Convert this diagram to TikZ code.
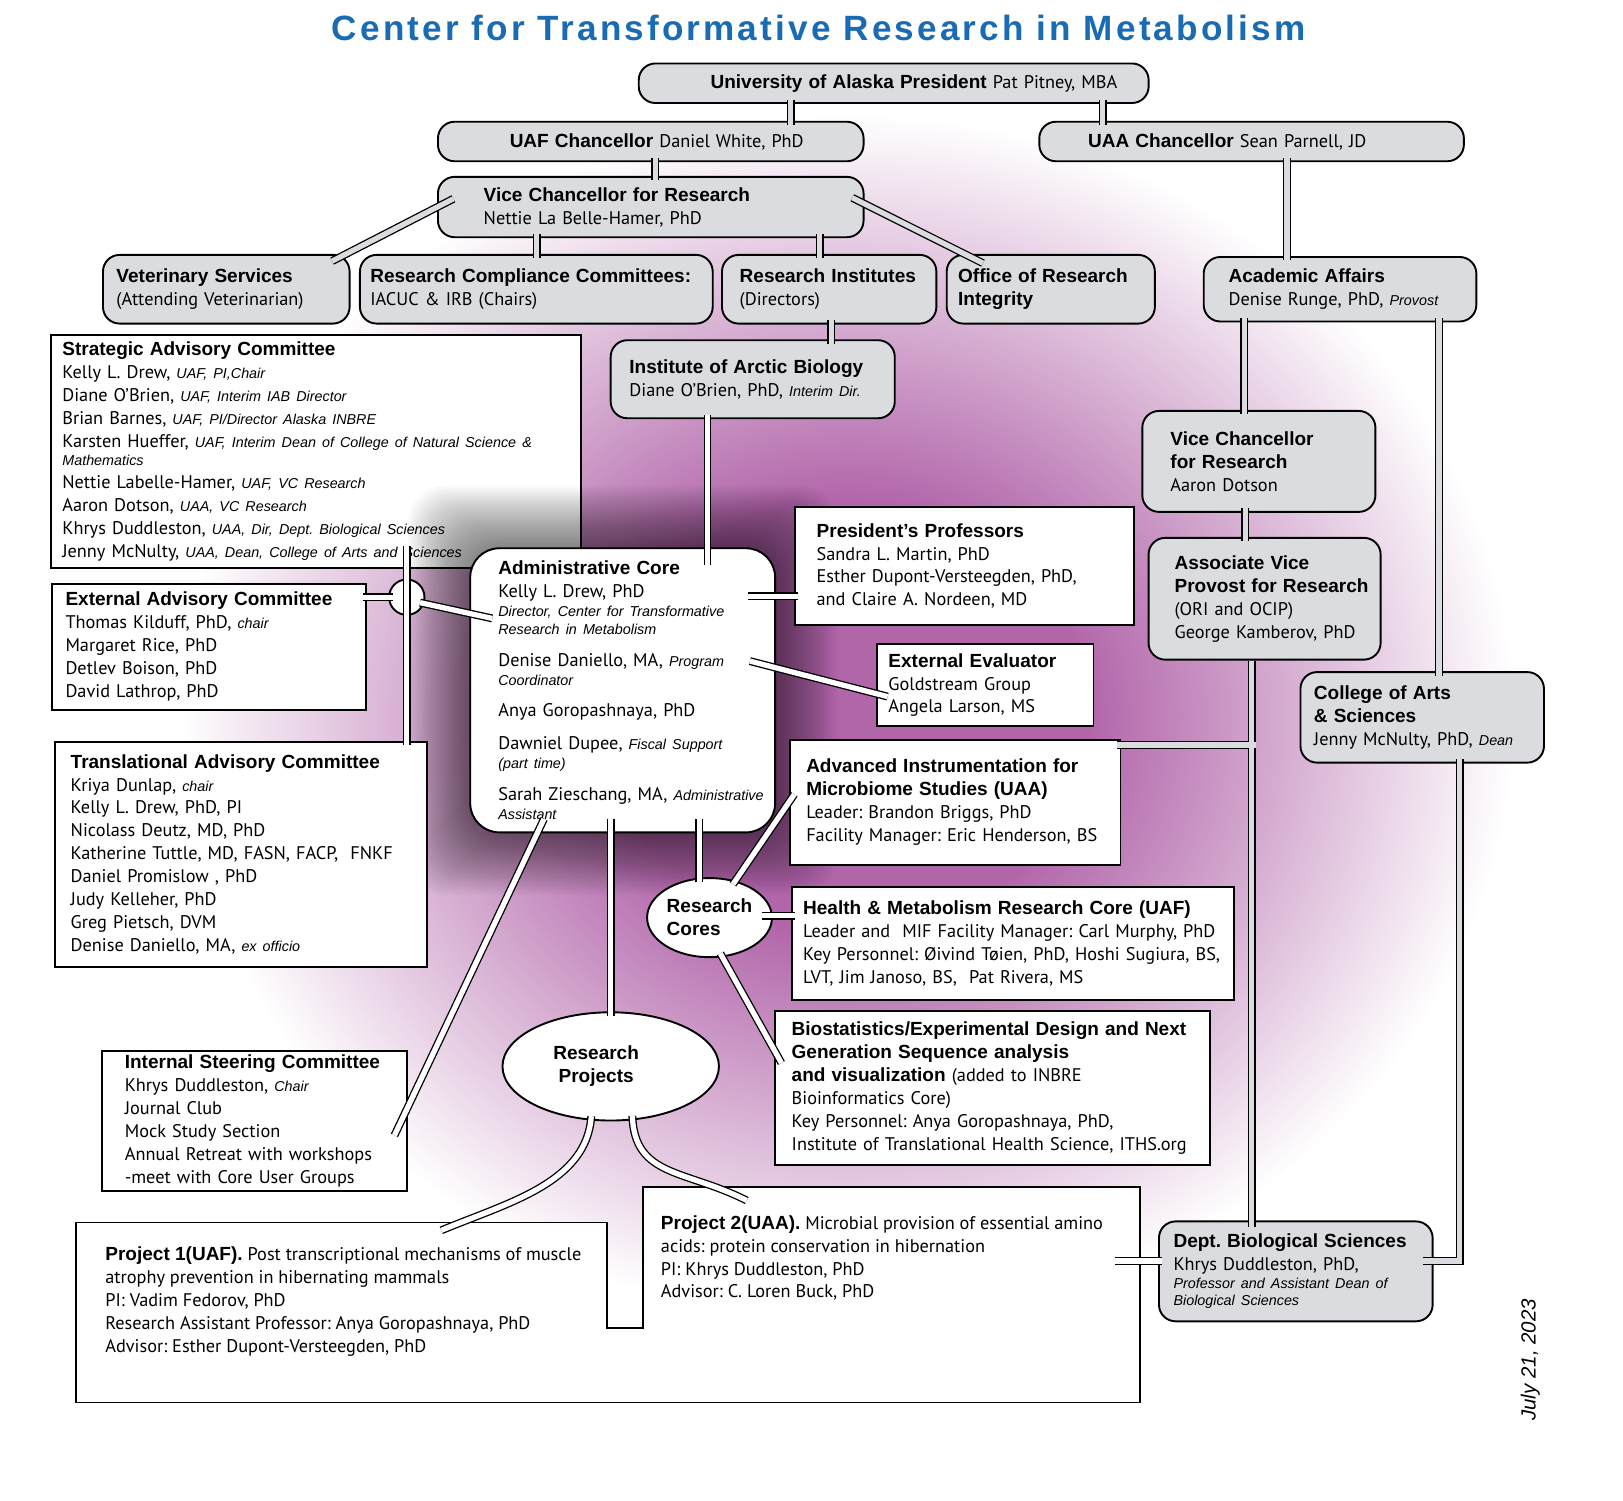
\documentclass[tikz,border=0pt]{standalone}
\usepackage{fontspec}
\setmainfont{PT Sans}
\newfontfamily\hfont{Liberation Sans}
\newfontfamily\titlefont[LetterSpace=9]{Liberation Sans}
\usetikzlibrary{calc,positioning,shapes.geometric}
\definecolor{boxgray}{RGB}{219,220,223}
\definecolor{mauve}{RGB}{178,102,170}
\definecolor{titleblue}{RGB}{25,108,180}
\pgfdeclareradialshading{glow}{\pgfpoint{0bp}{0bp}}{color(0bp)=(mauve); color(9bp)=(mauve); color(25bp)=(white); color(50bp)=(white)}

\begin{document}
\begin{tikzpicture}[x=0.025cm, y=-0.025cm,
  every node/.style={font=\fontsize{12.5}{15.65}\selectfont\frenchspacing},
  gbox/.style={draw, line width=1.3pt, fill=boxgray, rounded corners=0.4cm, inner sep=0pt},
  wbox/.style={draw, line width=1.3pt, fill=white, inner sep=0pt},
  link/.style={line width=0.9pt, double=boxgray, double distance=3.6pt, shorten <=-3pt, shorten >=-3pt},
  wlink/.style={link, double=white}]
  \newcommand{\hd}[1]{{\hfont\bfseries\fontsize{13}{15.65}\selectfont #1}}
  \newcommand{\nt}[1]{{\hfont\itshape\fontsize{9.8}{15.65}\selectfont #1}}
  \useasboundingbox (0,0) rectangle (1560,1442);
  \fill[white] (0,0) rectangle (1560,1442);
  \shade[shading=glow] (815,690) ellipse (640 and 580);

  % advisory side
  \node[wbox, minimum width=12.725cm, minimum height=5.6cm, text width=12.175cm, align=left] (bSAC) at (303.5,434) {\hd{Strategic Advisory Committee}\\
    Kelly L. Drew, \nt{UAF, PI,Chair}\\
    Diane O’Brien, \nt{UAF, Interim IAB Director}\\
    Brian Barnes, \nt{UAF, PI/Director Alaska INBRE}\\
    Karsten Hueffer, \nt{UAF, Interim Dean of College of Natural Science \&}\\[-2.8pt]
    \nt{Mathematics}\\
    Nettie Labelle-Hamer, \nt{UAF, VC Research}\\
    Aaron Dotson, \nt{UAA, VC Research}\\
    Khrys Duddleston, \nt{UAA, Dir, Dept. Biological Sciences}\\
    Jenny McNulty, \nt{UAA, Dean, College of Arts and Sciences}};

  % shadow of the core
  \foreach \s in {1,...,24}
    \fill[black, opacity=0.022, rounded corners=0.9cm] ({452-2.5*\s},{527-2.5*\s}) rectangle ({745+2.5*\s},{800+2.5*\s});

  % top of the chart
  \node[gbox, minimum width=12.25cm, minimum height=0.95cm, text width=8.8cm, align=left] (bPres) at (859,80) {\mbox{\hd{University of Alaska President} Pat Pitney, MBA}};
  \node[gbox, minimum width=10.225cm, minimum height=0.95cm, text width=6.775cm, align=left] (bUAF) at (625.5,136) {\mbox{\hd{UAF Chancellor} Daniel White, PhD}};
  \node[gbox, minimum width=10.2cm, minimum height=0.95cm, text width=7.85cm, align=left] (bUAA) at (1203,136) {\hd{UAA Chancellor} Sean Parnell, JD};
  \node[gbox, minimum width=10.225cm, minimum height=1.45cm, text width=8.025cm, align=left] (bVCR) at (625.5,199) {\hd{Vice Chancellor for Research}\\Nettie La Belle-Hamer, PhD};
  \node[gbox, minimum width=5.925cm, minimum height=1.65cm, text width=5.275cm, align=left] (bVet) at (217.5,278) {\hd{Veterinary Services}\\(Attending Veterinarian)};
  \node[gbox, minimum width=8.475cm, minimum height=1.65cm, text width=7.975cm, align=left] (bRCC) at (515.5,278) {\hd{Research Compliance Committees:}\\IACUC \& IRB (Chairs)};
  \node[gbox, minimum width=5.15cm, minimum height=1.65cm, text width=4.3cm, align=left] (bRI) at (797,278) {\hd{Research Institutes}\\(Directors)};
  \node[gbox, minimum width=5cm, minimum height=1.65cm, text width=4.45cm, align=left] (bORI) at (1010,278) {\hd{Office of Research}\\\hd{Integrity}};
  \node[gbox, minimum width=6.55cm, minimum height=1.55cm, text width=5.35cm, align=left] (bAA) at (1288,278) {\hd{Academic Affairs}\\Denise Runge, PhD, \nt{Provost}};
  \node[gbox, minimum width=6.825cm, minimum height=1.875cm, text width=5.925cm, align=left] (bIAB) at (723.5,364.5) {\hd{Institute of Arctic Biology}\\Diane O'Brien, PhD, \nt{Interim Dir.}};
  \node[gbox, minimum width=5.6cm, minimum height=2.425cm, text width=4.25cm, align=left] (bVCU) at (1210,443.5) {\hd{Vice Chancellor}\\\hd{for Research}\\Aaron Dotson};
  \node[gbox, minimum width=5.575cm, minimum height=2.925cm, text width=4.325cm, align=left] (bAVP) at (1215.5,575.5) {\hd{Associate Vice}\\\mbox{\hd{Provost for Research}}\\(ORI and OCIP)\\\mbox{George Kamberov, PhD}};
  \node[gbox, minimum width=5.85cm, minimum height=2.175cm, text width=5.2cm, align=left] (bCAS) at (1367,689.5) {\hd{College of Arts}\\\hd{\& Sciences}\\Jenny McNulty, PhD, \nt{Dean}};
  \node[gbox, minimum width=6.575cm, minimum height=2.4cm, text width=5.875cm, align=left] (bDBS) at (1245.5,1222) {\hd{Dept. Biological Sciences}\\Khrys Duddleston, PhD,\\[-3pt]
    \nt{Professor and Assistant Dean of}\\[-4pt]\nt{Biological Sciences}};

  % committees
  \node[wbox, minimum width=7.55cm, minimum height=3.025cm, text width=6.9cm, align=left] (bEAC) at (201,621.5) {\hd{External Advisory Committee}\\
    Thomas Kilduff, PhD, \nt{chair}\\
    Margaret Rice, PhD\\
    Detlev Boison, PhD\\
    David Lathrop, PhD};
  \node[wbox, minimum width=8.925cm, minimum height=5.4cm, text width=8.175cm, align=left] (bTAC) at (231.5,821) {\hd{Translational Advisory Committee}\\
    Kriya Dunlap, \nt{chair}\\
    Kelly L. Drew, PhD, PI\\
    Nicolass Deutz, MD, PhD\\
    Katherine Tuttle, MD, FASN, FACP,~~FNKF\\
    Daniel Promislow , PhD\\
    Judy Kelleher, PhD\\
    Greg Pietsch, DVM\\
    Denise Daniello, MA, \nt{ex officio}};
  \node[wbox, minimum width=7.325cm, minimum height=3.375cm, text width=6.225cm, align=left] (bISC) at (244.5,1077.5) {\hd{Internal Steering Committee}\\
    Khrys Duddleston, \nt{Chair}\\
    Journal Club\\
    Mock Study Section\\
    Annual Retreat with workshops\\
    -meet with Core User Groups};

  % the core
  \node[wbox, rounded corners=0.7cm, minimum width=7.325cm, minimum height=6.825cm, text width=5.975cm, align=left] (bAdm) at (598.5,663.5) {\hd{Administrative Core}\\
    Kelly L. Drew, PhD\\[-2.8pt]
    \nt{Director, Center for Transformative}\\[-3.5pt]
    \nt{Research in Metabolism}\\[6.4pt]
    Denise Daniello, MA, \nt{Program}\\[-2.8pt]
    \nt{Coordinator}\\[5.7pt]
    Anya Goropashnaya, PhD\\[7.1pt]
    Dawniel Dupee, \nt{Fiscal Support}\\[-2.8pt]
    \nt{(part time)}\\[6.4pt]
    \mbox{Sarah Zieschang, MA, \nt{Administrative}}\\[-2.8pt]
    \nt{Assistant}\\[4pt]};
  \node[wbox, minimum width=8.15cm, minimum height=2.85cm, text width=7.1cm, align=left] (bPP) at (927,544) {\hd{President’s Professors}\\
    Sandra L. Martin, PhD\\
    Esther Dupont-Versteegden, PhD,\\
    and Claire A. Nordeen, MD};
  \node[wbox, minimum width=5.2cm, minimum height=1.975cm, text width=4.65cm, align=left] (bEE) at (947,658.5) {\hd{External Evaluator}\\Goldstream Group\\Angela Larson, MS};
  \node[wbox, minimum width=7.95cm, minimum height=3cm, text width=7.15cm, align=left] (bAIM) at (918,771) {\hd{Advanced Instrumentation for}\\\hd{Microbiome Studies (UAA)}\\
    Leader: Brandon Briggs, PhD\\Facility Manager: Eric Henderson, BS};
  \node[wbox, minimum width=10.625cm, minimum height=2.7cm, text width=10.075cm, align=left] (bHMR) at (973.5,907) {\hd{Health \& Metabolism Research Core (UAF)}\\
    \mbox{Leader and~~MIF Facility Manager: Carl Murphy, PhD}\\
    \mbox{Key Personnel: Øivind Tøien, PhD, Hoshi Sugiura, BS,}\\
    LVT, Jim Janoso, BS,~~Pat Rivera, MS};
  \node[wbox, minimum width=10.45cm, minimum height=3.7cm, text width=9.65cm, align=left] (bBio) at (954,1046) {\hd{Biostatistics/Experimental Design and Next}\\
    \hd{Generation Sequence analysis}\\
    \hd{and visualization} (added to INBRE\\
    Bioinformatics Core)\\
    Key Personnel: Anya Goropashnaya, PhD,\\
    \mbox{Institute of Translational Health Science, ITHS.org}};

  \node[ellipse, draw, line width=1.3pt, fill=white, minimum width=3cm, minimum height=1.9cm, inner sep=0pt, align=left] (eCores) at (682,882) {\hd{Research}\\\hd{Cores}};
  \node[ellipse, draw, line width=1.3pt, fill=white, minimum width=5.2cm, minimum height=2.6cm, inner sep=0pt, align=center] (eProj) at (587,1025) {\hd{Research}\hspace*{0.7cm}\\\hd{Projects}\hspace*{0.7cm}};
  \node[circle, draw, line width=1.3pt, fill=white, minimum size=0.85cm, inner sep=0pt] (cJ) at (391,574) {};

  % projects
  \draw[line width=1.3pt, fill=white] (73,1175) -- (583,1175) -- (583,1276) -- (618,1276) -- (618,1141)
    -- (1096,1141) -- (1096,1348) -- (73,1348) -- cycle;
  \node[anchor=north west, align=left, inner sep=0pt] (tP1) at (101,1198) {\hd{Project 1(UAF).} Post transcriptional mechanisms of muscle\\
    atrophy prevention in hibernating mammals\\
    PI: Vadim Fedorov, PhD\\
    Research Assistant Professor: Anya Goropashnaya, PhD\\
    Advisor: Esther Dupont-Versteegden, PhD};
  \node[anchor=north west, align=left, inner sep=0pt] (tP2) at (635,1168) {\hd{Project 2(UAA).} Microbial provision of essential amino\\
    acids: protein conservation in hibernation\\
    PI: Khrys Duddleston, PhD\\
    Advisor: C. Loren Buck, PhD};
  \coordinate (cP1a) at (428,1181);
  \coordinate (cP2a) at (714,1152);
  \coordinate (cP2e) at (1076,1212);
  \coordinate (jAVP) at (1203,716);

  % connectors
  \draw[link] (bPres.south -| 760,0) -- (bUAF.north -| 760,0);
  \draw[link] (bPres.south -| 1060,0) -- (bUAA.north -| 1060,0);
  \draw[link] (bUAF.south -| 630,0) -- (bVCR.north -| 630,0);
  \draw[link] ($(bVCR.west)+(12,-6)$) -- ($(bVet.north east)+(-14,5)$);
  \draw[link] (bVCR.south -| 516,0) -- (bRCC.north -| 516,0);
  \draw[link] (bVCR.south -| 788,0) -- (bRI.north -| 788,0);
  \draw[link] ($(bVCR.east)+(-8,-7)$) -- ($(bORI.north west)+(32,7)$);
  \draw[link] (bUAA.south -| 1237,0) -- (bAA.north -| 1237,0);
  \draw[link] (bRI.south -| 799,0) -- (bIAB.north -| 799,0);
  \draw[wlink] (bIAB.south -| 680,0) -- ($(bAdm.north -| 680,0)+(0,13)$);
  \draw[link] (bAA.south -| 1196,0) -- (bVCU.north -| 1196,0);
  \draw[link] (bAA.south -| 1383,0) -- (bCAS.north -| 1383,0);
  \draw[link] (bVCU.south -| 1197,0) -- (bAVP.north -| 1197,0);
  \draw[link] (bAVP.south -| jAVP) -- ($(bDBS.north -| jAVP)+(0,6)$) (jAVP) -- (bAIM.east |- jAVP);
  \draw[link] (bCAS.south -| 1403,0) |- ($(bDBS.east)+(-6,-10)$);
  \draw[wlink] (cP2e) -- (bDBS.west |- cP2e);
  \draw[wlink] (bEAC.east |- cJ) -- (cJ.west);
  \draw[wlink] ($(bSAC.south -| cJ)+(0,-18)$) -- (bTAC.north -| cJ);
  \draw[wlink] (cJ.-20) -- ($(bAdm.west)+(18,-70)$);
  \draw[wlink] ($(bAdm.east |- 0,573)+(-23,0)$) -- (bPP.west |- 0,573);
  \draw[wlink] ($(bAdm.east)+(-21,-27)$) -- ($(bEE.west)+(7,10)$);
  \draw[wlink] ($(bAdm.south -| 672,0)+(0,-10)$) -- (eCores.north -| 672,0);
  \draw[wlink] ($(bAdm.south -| 587,0)+(0,-10)$) -- (eProj.north -| 587,0);
  \draw[wlink] ($(bAdm.south west)+(70,-10)$) -- ($(bISC.east)+(-11,10)$);
  \draw[wlink] (eCores.55) -- ($(bAIM.west)+(3,-4)$);
  \draw[wlink] ($(eCores.east)+(-6,-2)$) -- (bHMR.west |- 0,880);
  \draw[wlink] (eCores.-72) -- ($(bBio.west)+(5,-28)$);
  \draw[wlink] (eProj.-110) .. controls ($(eProj.-110)+(-4,60)$) and ($(cP1a)+(60,-25)$) .. (cP1a);
  \draw[wlink] (eProj.-68) .. controls ($(eProj.-68)+(2,55)$) and ($(cP2a)+(-55,-28)$) .. (cP2a);

  % title and date
  \node[font=\titlefont\bfseries\fontsize{24}{28}\selectfont, text=titleblue] (tTitle) at (787,27) {Center for Transformative Research in Metabolism};
  \node[rotate=90, font=\hfont\itshape\fontsize{14}{16}\selectfont] (tDate) at (1471,1307) {July 21, 2023};
\end{tikzpicture}
\end{document}
